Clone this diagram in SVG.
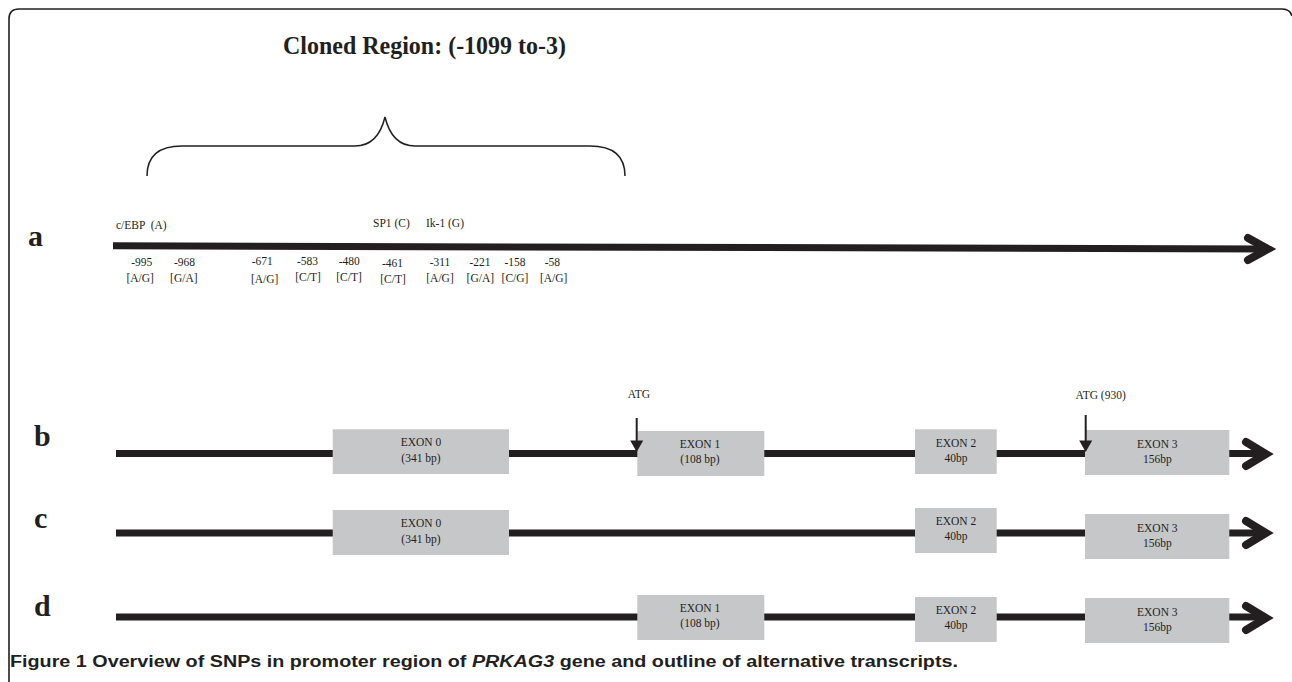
<svg xmlns="http://www.w3.org/2000/svg" width="1292" height="682" viewBox="0 0 1292 682">
<style>
.frame{fill:none;stroke:#231f20;stroke-width:1.6}
.gene{stroke:#231f20;stroke-width:7;fill:none}
.chev{stroke:#231f20;stroke-width:8;fill:none;stroke-linejoin:miter;stroke-linecap:round}
.brace{fill:none;stroke:#231f20;stroke-width:1.5}
.atg{stroke:#231f20;stroke-width:2;fill:none}
.atgh{fill:#231f20}
.exon{fill:#c6c7c8}
.t{font-family:"Liberation Serif",serif;font-size:11.5px;fill:#231f20}
.tm{font-family:"Liberation Serif",serif;font-size:11.5px;fill:#231f20;text-anchor:middle}
.lab{font-family:"Liberation Serif",serif;font-size:30px;font-weight:bold;fill:#231f20}
.title{font-family:"Liberation Serif",serif;font-size:26px;font-weight:bold;fill:#231f20}
.cap{font-family:"Liberation Sans",sans-serif;font-size:16px;font-weight:bold;fill:#231f20}
</style>
<path class="frame" d="M9,682 V19 Q9,9 19,9 H1282 Q1290,9 1292,16"/>
<text class="title" x="283" y="54" textLength="283" lengthAdjust="spacingAndGlyphs">Cloned Region: (-1099 to-3)</text>

<g id="connectors">
<path class="brace" d="M147,176 Q147,146 182,146 H355 Q378,146 385,117 Q392,146 415,146 H590 Q625,146 625,176"/>
<line class="gene" x1="113" y1="245.8" x2="1268" y2="249"/>
<polyline class="chev" points="1248,238 1268,249 1248,260"/>
<line class="gene" x1="116" y1="453.5" x2="1266" y2="453.5"/>
<polyline class="chev" points="1246,442 1266,454 1246,466"/>
<line class="gene" x1="116" y1="533" x2="1266" y2="533"/>
<polyline class="chev" points="1246,521 1266,533 1246,545"/>
<line class="gene" x1="116" y1="617" x2="1266" y2="617"/>
<polyline class="chev" points="1246,606 1266,618 1246,630"/>
</g>

<g id="label-a"><text class="lab" x="28" y="246">a</text></g>
<g id="label-b"><text class="lab" x="34" y="446">b</text></g>
<g id="label-c"><text class="lab" x="34" y="528">c</text></g>
<g id="label-d"><text class="lab" x="34" y="616">d</text></g>

<g id="tf-sites">
<text class="t" x="116" y="229" xml:space="preserve">c/EBP  (A)</text>
<text class="t" x="373" y="227">SP1 (C)</text>
<text class="t" x="426" y="227">Ik-1 (G)</text>
</g>

<g id="snps">
<text class="tm" x="141.7" y="266">-995</text><text class="tm" x="140.2" y="281.5">[A/G]</text>
<text class="tm" x="184.5" y="266">-968</text><text class="tm" x="183.8" y="281.5">[G/A]</text>
<text class="tm" x="262.2" y="265">-671</text><text class="tm" x="264.7" y="283">[A/G]</text>
<text class="tm" x="307.5" y="265">-583</text><text class="tm" x="308" y="281">[C/T]</text>
<text class="tm" x="349.2" y="265">-480</text><text class="tm" x="349" y="281">[C/T]</text>
<text class="tm" x="392.5" y="266.5">-461</text><text class="tm" x="393" y="283">[C/T]</text>
<text class="tm" x="440" y="266">-311</text><text class="tm" x="440" y="281.5">[A/G]</text>
<text class="tm" x="480" y="266">-221</text><text class="tm" x="480.3" y="281.5">[G/A]</text>
<text class="tm" x="515" y="266">-158</text><text class="tm" x="515" y="281.5">[C/G]</text>
<text class="tm" x="552.3" y="266">-58</text><text class="tm" x="553.7" y="281.5">[A/G]</text>
</g>

<g id="atg-labels">
<text class="tm" x="639" y="398">ATG</text>
<text class="tm" x="1100.7" y="399">ATG (930)</text>
</g>

<g id="b-exon0"><rect class="exon" x="332.7" y="429.3" width="176.3" height="44.7"/><text class="tm" x="421" y="446">EXON 0</text><text class="tm" x="421" y="461.7">(341 bp)</text></g>
<g id="b-exon1"><rect class="exon" x="637.3" y="431" width="127" height="45"/><text class="tm" x="700" y="448.3">EXON 1</text><text class="tm" x="700" y="462.7">(108 bp)</text></g>
<g id="b-exon2"><rect class="exon" x="915" y="429.3" width="81.7" height="44.7"/><text class="tm" x="956" y="446.7">EXON 2</text><text class="tm" x="956" y="461.7">40bp</text></g>
<g id="b-exon3"><rect class="exon" x="1085" y="430" width="144.3" height="45"/><text class="tm" x="1157.3" y="448">EXON 3</text><text class="tm" x="1157.3" y="462.7">156bp</text></g>

<g id="c-exon0"><rect class="exon" x="332.7" y="510" width="176.3" height="45"/><text class="tm" x="421" y="527">EXON 0</text><text class="tm" x="421" y="542.5">(341 bp)</text></g>
<g id="c-exon2"><rect class="exon" x="915" y="508" width="81.7" height="45"/><text class="tm" x="956" y="525">EXON 2</text><text class="tm" x="956" y="540">40bp</text></g>
<g id="c-exon3"><rect class="exon" x="1085" y="514" width="144.3" height="45"/><text class="tm" x="1157.3" y="532">EXON 3</text><text class="tm" x="1157.3" y="546.5">156bp</text></g>

<g id="d-exon1"><rect class="exon" x="637.3" y="595" width="127" height="45"/><text class="tm" x="700" y="612">EXON 1</text><text class="tm" x="700" y="627">(108 bp)</text></g>
<g id="d-exon2"><rect class="exon" x="915" y="597" width="81.7" height="45"/><text class="tm" x="956" y="614">EXON 2</text><text class="tm" x="956" y="629">40bp</text></g>
<g id="d-exon3"><rect class="exon" x="1085" y="598" width="144.3" height="45"/><text class="tm" x="1157.3" y="616">EXON 3</text><text class="tm" x="1157.3" y="630.5">156bp</text></g>

<g id="atg-arrows">
<line class="atg" x1="636.7" y1="418" x2="636.7" y2="442"/>
<path class="atgh" d="M630.2,440.5 L643.2,440.5 L636.7,452 Z"/>
<line class="atg" x1="1085.7" y1="415" x2="1085.7" y2="442"/>
<path class="atgh" d="M1079.2,440.5 L1092.2,440.5 L1085.7,452 Z"/>
</g>

<text class="cap" x="10" y="667" textLength="948" lengthAdjust="spacingAndGlyphs">Figure 1 Overview of SNPs in promoter region of <tspan font-style="italic">PRKAG3</tspan> gene and outline of alternative transcripts.</text>
</svg>
